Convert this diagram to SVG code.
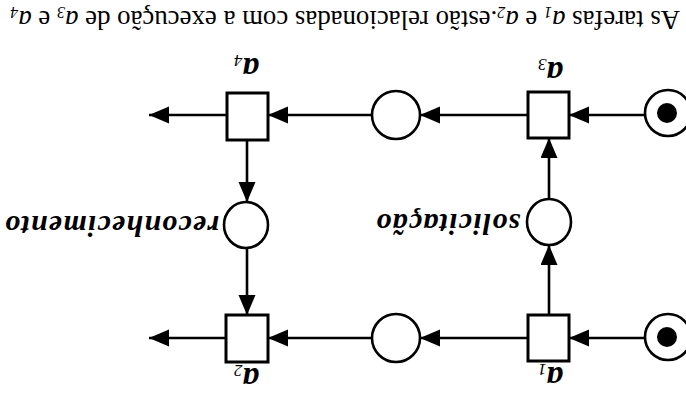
<svg xmlns="http://www.w3.org/2000/svg" width="686" height="399" viewBox="0 0 686 399">
<style>
.pl{fill:#fff;stroke:#000;stroke-width:2.6}
.tr{fill:#fff;stroke:#000;stroke-width:3}
.ar{stroke:#000;stroke-width:2.6;fill:none;marker-end:url(#ah)}
.lab{font-family:"Liberation Serif",serif;font-weight:bold;font-style:italic;font-size:33px;fill:#000}
.sub{font-size:17px;font-weight:normal}
.pname{font-family:"Liberation Serif",serif;font-weight:bold;font-style:italic;font-size:30px;letter-spacing:1.2px;fill:#000}
.cap{font-family:"Liberation Serif",serif;font-size:26.8px;fill:#000}
</style>
<defs>
<marker id="ah" markerUnits="userSpaceOnUse" markerWidth="21" markerHeight="18" refX="20" refY="8.5" orient="auto">
<path d="M0,0 L20,8.5 L0,17 Z" fill="#000"/>
</marker>
</defs>
<rect width="686" height="399" fill="#fff"/>
<g transform="rotate(180 343 199.5)">
<g id="connectors">
<line class="ar" x1="42" y1="61" x2="117" y2="61"/>
<line class="ar" x1="158" y1="61" x2="266" y2="61"/>
<line class="ar" x1="314" y1="61" x2="418" y2="61"/>
<line class="ar" x1="460" y1="61" x2="537" y2="61"/>
<line class="ar" x1="42" y1="284" x2="117" y2="284"/>
<line class="ar" x1="158" y1="284" x2="266" y2="284"/>
<line class="ar" x1="314" y1="284" x2="418" y2="284"/>
<line class="ar" x1="459" y1="284" x2="537" y2="284"/>
<line class="ar" x1="137" y1="84" x2="137" y2="154"/>
<line class="ar" x1="137" y1="200" x2="137" y2="261"/>
<line class="ar" x1="439" y1="259" x2="439" y2="197"/>
<line class="ar" x1="439" y1="151" x2="439" y2="84"/>
</g>
<g id="p_start1"><circle class="pl" cx="18" cy="62" r="23"/><circle cx="19" cy="62" r="10" fill="#000"/></g>
<g id="p_start2"><circle class="pl" cx="18" cy="286" r="23"/><circle cx="19" cy="286" r="10" fill="#000"/></g>
<g id="t_a1"><rect class="tr" x="117" y="38" width="41" height="46"/><text class="lab" x="123" y="32">a<tspan class="sub" dy="3">1</tspan></text></g>
<g id="p_mid1"><circle class="pl" cx="290" cy="61" r="24"/></g>
<g id="t_a2"><rect class="tr" x="418" y="37" width="42" height="47"/><text class="lab" x="427" y="31">a<tspan class="sub" dy="3">2</tspan></text></g>
<g id="t_a3"><rect class="tr" x="117" y="261" width="41" height="46"/><text class="lab" x="123" y="337">a<tspan class="sub" dy="3">3</tspan></text></g>
<g id="p_mid2"><circle class="pl" cx="290" cy="284" r="24"/></g>
<g id="t_a4"><rect class="tr" x="418" y="259" width="41" height="47"/><text class="lab" x="427" y="341">a<tspan class="sub" dy="3">4</tspan></text></g>
<g id="p_solicitacao"><ellipse class="pl" cx="137" cy="177" rx="22" ry="23"/><text class="pname" x="166" y="185" letter-spacing="2.3">solicitação</text></g>
<g id="p_reconhecimento"><ellipse class="pl" cx="440" cy="174" rx="22" ry="23"/><text class="pname" x="467" y="183">reconhecimento</text></g>
<text class="cap" x="6" y="388">As tarefas <tspan font-style="italic">a</tspan><tspan font-style="italic" font-size="16" dy="4">1</tspan><tspan dy="-4"> e </tspan><tspan font-style="italic">a</tspan><tspan font-style="italic" font-size="16" dy="4">2</tspan><tspan dy="-4">.estão relacionadas com a execução de </tspan><tspan font-style="italic">a</tspan><tspan font-style="italic" font-size="16" dy="4">3</tspan><tspan dy="-4"> e </tspan><tspan font-style="italic">a</tspan><tspan font-style="italic" font-size="16" dy="4">4</tspan></text>
</g>
</svg>
